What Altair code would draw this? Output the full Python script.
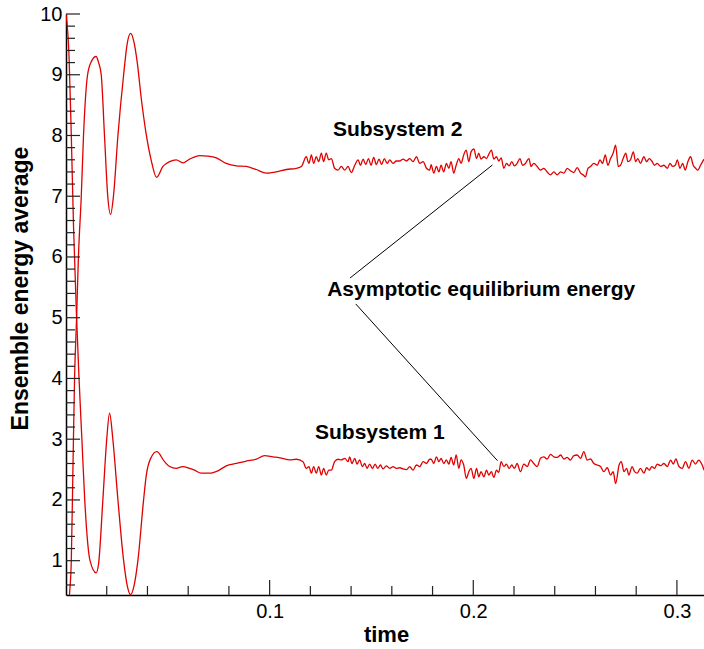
import altair as alt
import pandas as pd

# ---- data ----
t_sub2 = [0.0, 0.0017, 0.0026, 0.0034, 0.0042, 0.0052, 0.0061, 0.0075, 0.0086, 0.0106,
          0.0125, 0.0148, 0.0160, 0.0173, 0.0189, 0.0205, 0.0219, 0.0233, 0.0255, 0.0283,
          0.0300, 0.0317, 0.0333, 0.0350, 0.0370, 0.0393, 0.0418, 0.0445,
          0.0476, 0.0509, 0.0541, 0.0574, 0.0607, 0.0656, 0.0697, 0.0738, 0.0787, 0.0836,
          0.0885, 0.0934, 0.0984, 0.1033, 0.1082, 0.1131, 0.1156, 0.1180, 0.1193, 0.1205,
          0.1216, 0.1229, 0.1241, 0.1254, 0.1265, 0.1278, 0.1290, 0.1303, 0.1319, 0.1336,
          0.1352, 0.1369, 0.1385, 0.1401, 0.1418, 0.1434, 0.1446, 0.1459, 0.1472, 0.1485,
          0.1498, 0.1511, 0.1524, 0.1537, 0.1550, 0.1563, 0.1577, 0.1590, 0.1606, 0.1622,
          0.1639, 0.1655, 0.1672, 0.1688, 0.1704, 0.1721, 0.1737, 0.1754, 0.1770, 0.1786,
          0.1793, 0.1806, 0.1819, 0.1831, 0.1842, 0.1855, 0.1868, 0.1880, 0.1891, 0.1904,
          0.1916, 0.1929, 0.1940, 0.1953, 0.1965, 0.1978, 0.1989, 0.2003, 0.2016, 0.2027,
          0.2038, 0.2052, 0.2065, 0.2076, 0.2089, 0.2101, 0.2114, 0.2125, 0.2137, 0.2150,
          0.2163, 0.2176, 0.2189, 0.2202, 0.2215, 0.2229, 0.2242, 0.2256, 0.2273, 0.2284,
          0.2297, 0.2314, 0.2330, 0.2346, 0.2363, 0.2379, 0.2396, 0.2412, 0.2429, 0.2445,
          0.2461, 0.2477, 0.2494, 0.2510, 0.2527, 0.2540, 0.2551, 0.2563, 0.2576, 0.2592,
          0.2609, 0.2622, 0.2635, 0.2648, 0.2661, 0.2674, 0.2687, 0.2699, 0.2712, 0.2723,
          0.2736, 0.2749, 0.2759, 0.2772, 0.2786, 0.2797, 0.2808, 0.2821, 0.2838, 0.2851,
          0.2864, 0.2877, 0.2890, 0.2903, 0.2920, 0.2936, 0.2953, 0.2966, 0.2979, 0.2992,
          0.3002, 0.3015, 0.3028, 0.3041, 0.3054, 0.3067, 0.3080, 0.3092, 0.3103, 0.3116,
          0.3133]
e_sub2 = [0.0, 0.44, 1.0, 2.5, 4.0, 5.0, 6.0, 7.0, 8.0, 9.0,
          9.22, 9.30, 9.2, 9.0, 8.0, 7.0, 6.70, 7.0, 8.0, 9.0,
          9.5, 9.68, 9.55, 9.2, 8.6, 8.04, 7.60, 7.31,
          7.49, 7.57, 7.60, 7.55, 7.61, 7.67, 7.66, 7.63, 7.54, 7.50,
          7.49, 7.44, 7.38, 7.40, 7.44, 7.46, 7.49, 7.65, 7.54, 7.68,
          7.54, 7.65, 7.57, 7.71, 7.57, 7.71, 7.60, 7.62, 7.46, 7.43,
          7.49, 7.43, 7.49, 7.39, 7.51, 7.60, 7.51, 7.61, 7.52, 7.62,
          7.51, 7.64, 7.52, 7.61, 7.52, 7.62, 7.54, 7.60, 7.54, 7.58,
          7.58, 7.61, 7.58, 7.62, 7.57, 7.65, 7.54, 7.57, 7.46, 7.43,
          7.52, 7.38, 7.49, 7.40, 7.51, 7.40, 7.54, 7.46, 7.57, 7.38,
          7.51, 7.62, 7.54, 7.68, 7.76, 7.57, 7.73, 7.78, 7.62, 7.71,
          7.61, 7.65, 7.62, 7.69, 7.76, 7.61, 7.65, 7.58, 7.63, 7.46,
          7.54, 7.50, 7.57, 7.50, 7.54, 7.62, 7.51, 7.54, 7.62, 7.49,
          7.54, 7.49, 7.43, 7.46, 7.40, 7.35, 7.40, 7.35, 7.40, 7.38,
          7.46, 7.42, 7.39, 7.47, 7.38, 7.35, 7.32, 7.46, 7.49, 7.54,
          7.51, 7.60, 7.54, 7.68, 7.51, 7.62, 7.71, 7.84, 7.49, 7.51,
          7.62, 7.71, 7.57, 7.60, 7.73, 7.57, 7.62, 7.54, 7.65, 7.57,
          7.62, 7.58, 7.51, 7.54, 7.49, 7.51, 7.46, 7.54, 7.49, 7.51,
          7.60, 7.46, 7.54, 7.43, 7.57, 7.65, 7.51, 7.46, 7.43, 7.51,
          7.61]

t_sub1 = [0.0, 0.0015, 0.0026, 0.0037, 0.0052, 0.0064, 0.0078, 0.0092, 0.0118, 0.0148,
          0.0160, 0.0181, 0.0200, 0.0214, 0.0230, 0.0255, 0.0283, 0.0300, 0.0317, 0.0335,
          0.0353, 0.0381, 0.0394, 0.0418, 0.0446,
          0.0484, 0.0509, 0.0541, 0.0574, 0.0607, 0.0631, 0.0664, 0.0705, 0.0746, 0.0787,
          0.0836, 0.0885, 0.0935, 0.0975, 0.1016, 0.1057, 0.1098, 0.1131, 0.1164, 0.1180,
          0.1193, 0.1205, 0.1216, 0.1229, 0.1241, 0.1254, 0.1265, 0.1278, 0.1290, 0.1303,
          0.1319, 0.1336, 0.1352, 0.1369, 0.1385, 0.1393, 0.1404, 0.1418, 0.1429, 0.1442,
          0.1455, 0.1467, 0.1478, 0.1491, 0.1505, 0.1518, 0.1531, 0.1544, 0.1557, 0.1573,
          0.1590, 0.1606, 0.1622, 0.1639, 0.1655, 0.1672, 0.1688, 0.1704, 0.1721, 0.1737,
          0.1754, 0.1770, 0.1786,
          0.1793, 0.1806, 0.1819, 0.1831, 0.1842, 0.1855, 0.1868, 0.1880, 0.1891, 0.1904,
          0.1916, 0.1929, 0.1940, 0.1953, 0.1966, 0.1978, 0.1989, 0.2003, 0.2016, 0.2027,
          0.2038, 0.2052, 0.2065, 0.2076, 0.2089, 0.2101, 0.2114, 0.2125, 0.2137, 0.2150,
          0.2163, 0.2176, 0.2189, 0.2202, 0.2215, 0.2232, 0.2248, 0.2265, 0.2281, 0.2297,
          0.2314, 0.2330, 0.2346, 0.2363, 0.2379, 0.2396, 0.2412, 0.2429, 0.2445, 0.2461,
          0.2477, 0.2494, 0.2510, 0.2527, 0.2543, 0.2559, 0.2576, 0.2592, 0.2609, 0.2625,
          0.2641, 0.2658, 0.2674, 0.2687, 0.2699, 0.2716, 0.2727, 0.2740, 0.2753, 0.2764,
          0.2780, 0.2792, 0.2805, 0.2821, 0.2838, 0.2851, 0.2864, 0.2877, 0.2890, 0.2903,
          0.2920, 0.2936, 0.2953, 0.2969, 0.2982, 0.2995, 0.3010, 0.3026, 0.3042, 0.3059,
          0.3075, 0.3091, 0.3107, 0.3124, 0.3133]
e_sub1 = [10.0, 9.3, 8.0, 6.5, 5.0, 4.0, 3.0, 2.0, 1.0, 0.80,
          0.95, 2.0, 3.0, 3.43, 3.0, 2.0, 1.0, 0.6, 0.44, 0.6,
          1.0, 2.0, 2.4, 2.7, 2.795,
          2.63, 2.55, 2.52, 2.55, 2.52, 2.49, 2.44, 2.44, 2.48, 2.56,
          2.60, 2.64, 2.67, 2.73, 2.71, 2.69, 2.66, 2.67, 2.63, 2.52,
          2.55, 2.44, 2.55, 2.44, 2.55, 2.41, 2.52, 2.41, 2.49, 2.49,
          2.63, 2.67, 2.66, 2.685, 2.63, 2.71, 2.60, 2.685, 2.59, 2.66,
          2.55, 2.60, 2.52, 2.59, 2.52, 2.59, 2.52, 2.575, 2.51, 2.56,
          2.52, 2.55, 2.52, 2.53, 2.51, 2.50, 2.55, 2.49, 2.575, 2.55,
          2.63, 2.60, 2.67,
          2.67, 2.60, 2.71, 2.63, 2.685, 2.60, 2.66, 2.59, 2.70, 2.575,
          2.74, 2.52, 2.66, 2.575, 2.355, 2.465, 2.52, 2.355, 2.52, 2.38,
          2.465, 2.38, 2.49, 2.41, 2.465, 2.37, 2.49, 2.454, 2.63, 2.55,
          2.59, 2.52, 2.575, 2.52, 2.60, 2.465, 2.59, 2.55, 2.66, 2.60,
          2.55, 2.685, 2.71, 2.674, 2.75, 2.71, 2.70, 2.74, 2.674, 2.70,
          2.657, 2.73, 2.74, 2.685, 2.795, 2.657, 2.674, 2.60, 2.575, 2.55,
          2.465, 2.53, 2.41, 2.465, 2.27, 2.575, 2.63, 2.465, 2.52, 2.41,
          2.55, 2.465, 2.44, 2.52, 2.44, 2.53, 2.49, 2.55, 2.52, 2.59,
          2.564, 2.60, 2.55, 2.657, 2.59, 2.674, 2.55, 2.52, 2.63, 2.52,
          2.657, 2.59, 2.657, 2.575, 2.49]

assert len(t_sub2) == len(e_sub2), (len(t_sub2), len(e_sub2))
assert len(t_sub1) == len(e_sub1), (len(t_sub1), len(e_sub1))

x_major = [0.1, 0.2, 0.3]
x_minor = [0.02, 0.04, 0.06, 0.08, 0.12, 0.14, 0.16, 0.18, 0.22, 0.24, 0.26, 0.28]
y_major = [1, 2, 3, 4, 5, 6, 7, 8, 9, 10]
y_minor = [round(m + f, 1) for m in range(0, 10) for f in (0.2, 0.4, 0.6, 0.8) if m + f > 0.5]

label_text = ["Subsystem 2", "Subsystem 1", "Asymptotic equilibrium energy"]
label_t = [0.1629, 0.1541, 0.2039]
label_e = [8.09, 3.11, 5.456]

pointer_t = [0.1395, 0.1423]
pointer_e = [5.654, 5.226]
pointer_t2 = [0.2094, 0.2119]
pointer_e2 = [7.514, 2.646]

# ---- frames ----
lines_df = pd.concat([
    pd.DataFrame({"t": t_sub2, "e": e_sub2, "series": "Subsystem 2"}),
    pd.DataFrame({"t": t_sub1, "e": e_sub1, "series": "Subsystem 1"}),
])
labels_df = pd.DataFrame({"t": label_t, "e": label_e, "text": label_text})
pointer_df = pd.DataFrame({"t": pointer_t, "e": pointer_e, "t2": pointer_t2, "e2": pointer_e2})

FONT = "Liberation Sans"
W, H = 638, 581
XDOM = [0, 0.3133]
YDOM = [0.435, 10]

xscale = alt.Scale(domain=XDOM, nice=False, zero=False)
yscale = alt.Scale(domain=YDOM, nice=False, zero=False)

xaxis = alt.Axis(values=x_major, format=".1f", ticks=False, grid=False,
                 domain=True, domainColor="black", domainWidth=1.5,
                 labelFont=FONT, labelFontSize=20, labelColor="black", labelPadding=6,
                 labelFlush=False,
                 title="time", titleFont=FONT, titleFontSize=22, titleFontWeight="bold",
                 titleColor="black", titleX=320, titleY=46, titleBaseline="alphabetic")
yaxis = alt.Axis(values=y_major, format="d", ticks=False, grid=False,
                 domain=True, domainColor="black", domainWidth=1.5,
                 labelFont=FONT, labelFontSize=20, labelColor="black", labelPadding=4,
                 title="Ensemble energy average", titleFont=FONT, titleFontSize=23,
                 titleFontWeight="bold", titleColor="black", titleAngle=270,
                 titleX=-46, titleY=274, titleAlign="center", titleBaseline="middle")

X = lambda f: alt.X(f, type="quantitative", scale=xscale, axis=xaxis)
Y = lambda f: alt.Y(f, type="quantitative", scale=yscale, axis=yaxis)

lines = alt.Chart(lines_df).mark_line(
    clip=True, strokeWidth=1.3, interpolate="monotone", color="#e00000"
).encode(
    x=X("t"),
    y=Y("e"),
    detail="series:N",
)

def yticks(vals, length):
    return alt.Chart(pd.DataFrame({"v": vals})).mark_rule(color="#222", strokeWidth=1.2).encode(
        y=Y("v"),
        x=alt.value(0), x2=alt.value(length),
    )

def xticks(vals, length):
    return alt.Chart(pd.DataFrame({"v": vals})).mark_rule(color="#222", strokeWidth=1.2).encode(
        x=X("v"),
        y=alt.value(H), y2=alt.value(H - length),
    )

texts = alt.Chart(labels_df).mark_text(
    font=FONT, fontSize=21, fontWeight="bold", color="black", align="center", baseline="middle"
).encode(
    x=X("t"),
    y=Y("e"),
    text="text:N",
)

pointers = alt.Chart(pointer_df).mark_rule(color="black", strokeWidth=1).encode(
    x=X("t"),
    y=Y("e"),
    x2="t2:Q", y2="e2:Q",
)

chart = alt.layer(
    lines,
    yticks(y_minor, 9), yticks(y_major, 14),
    xticks(x_minor, 9), xticks(x_major, 15),
    pointers, texts,
).properties(
    width=W, height=H,
    autosize=alt.AutoSizeParams(type="none"),
    padding={"left": 66, "top": 14, "right": 0, "bottom": 54},
).configure_view(stroke=None)

chart.save("out.html", embed_options={"renderer": "svg", "actions": False})
